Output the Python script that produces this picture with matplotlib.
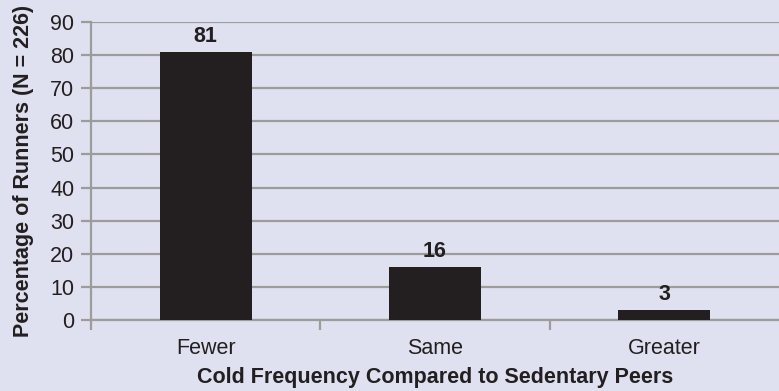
import matplotlib
matplotlib.use("Agg")
import matplotlib.pyplot as plt
import numpy as np

categories = ["Fewer", "Same", "Greater"]
percentages = [81, 16, 3]
y_ticks = [0, 10, 20, 30, 40, 50, 60, 70, 80, 90]

bg = "#dfe1f0"
grid_col = "#9c9c9c"
bar_col = "#231f20"
fs = 15.5

plt.rcParams["font.family"] = ["Liberation Sans", "DejaVu Sans"]

fig = plt.figure(figsize=(7.79, 3.91), dpi=100, facecolor=bg)
ax = fig.add_axes([0.1168, 0.1816, 0.8832, 0.7621])
ax.set_facecolor(bg)

x = np.arange(len(categories))
ax.bar(x, percentages, width=0.4, color=bar_col, zorder=3)
for xi, v in zip(x, percentages):
    ax.text(xi, v + 1.6, str(v), ha="center", va="bottom",
            fontsize=fs, fontweight="bold", color="#231f20")

ax.set_ylim(0, 90)
ax.set_xlim(-0.5, len(categories) - 0.5)
ax.set_yticks(y_ticks)
ax.yaxis.grid(True, color=grid_col, linewidth=1.6, zorder=0)

# category names centred under bars, tick marks on the boundaries
ax.set_xticks(x)
ax.set_xticklabels(categories)
ax.set_xticks(np.arange(len(categories)) - 0.5, minor=True)
ax.tick_params(axis="x", which="major", length=0, pad=13, labelsize=fs,
               labelcolor="#231f20")
ax.tick_params(axis="x", which="minor", length=7, width=1.6, color=grid_col)
ax.tick_params(axis="y", length=7, width=1.6, color=grid_col, labelsize=fs,
               labelcolor="#231f20", pad=5)

for side in ["top", "right"]:
    ax.spines[side].set_visible(False)
ax.spines["left"].set_color(grid_col)
ax.spines["left"].set_linewidth(1.6)
ax.spines["bottom"].set_color(grid_col)
ax.spines["bottom"].set_linewidth(1.6)

ax.set_xlabel("Cold Frequency Compared to Sedentary Peers", fontsize=fs,
              fontweight="bold", color="#231f20", labelpad=6)
ax.set_ylabel("Percentage of Runners (N = 226)", fontsize=fs,
              fontweight="bold", color="#231f20", labelpad=12)

fig.savefig("out.png", dpi=100, facecolor=bg)
